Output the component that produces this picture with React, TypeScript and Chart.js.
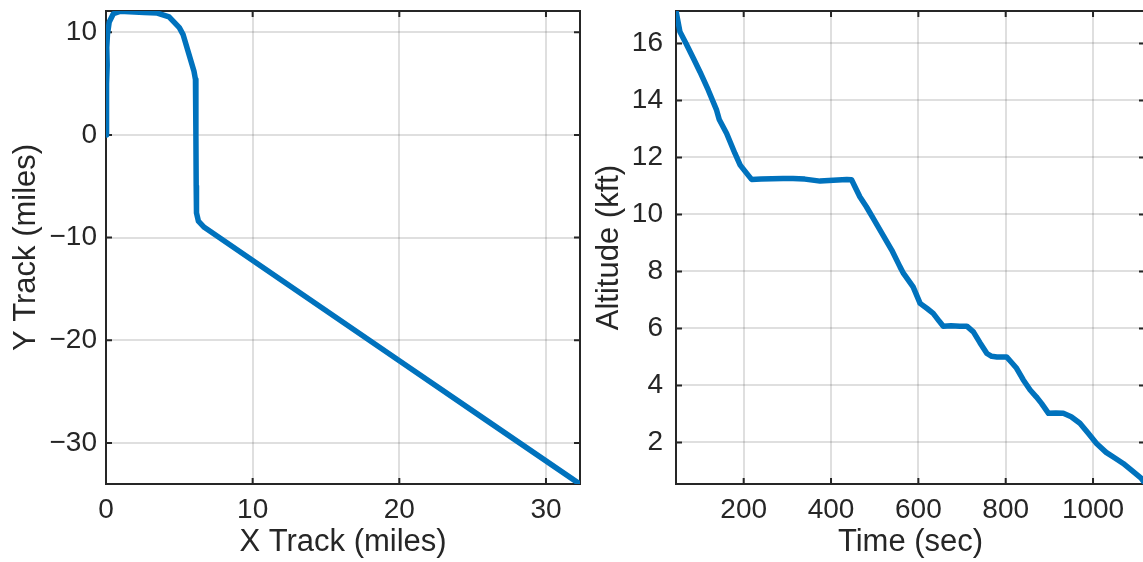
import { useEffect, useRef } from "react";
import { Chart, registerables } from "chart.js";

Chart.register(...registerables);

// Ground track (miles)
const trackX = [0, 0.02, 0.06, 0.03, 0.08, 0.05, 0.1, 0.22, 0.5, 0.95, 1.6, 2.6, 3.5, 4.3, 5.0, 5.25, 6.0, 6.1, 6.13, 6.15, 6.17, 6.3, 6.7, 12, 20, 26, 32.3];
const trackY = [0, 1.5, 3.2, 5.0, 6.8, 8.5, 9.8, 11.0, 11.8, 12.04, 12.0, 11.93, 11.87, 11.5, 10.45, 9.8, 6.2, 5.4, 0, -5, -7.6, -8.4, -9.0, -14.18, -21.99, -27.85, -34.0];
const trackXTicks = [0, 10, 20, 30];
const trackYTicks = [-30, -20, -10, 0, 10];

// Altitude profile
const timeSec = [45, 54, 68, 85, 100, 119, 138, 144, 161, 180, 192, 207, 218, 240, 265, 290, 313, 340, 375, 405, 436, 447, 466, 481, 497, 520, 539, 558, 566, 588, 604, 620, 634, 648, 657, 675, 695, 711, 726, 741, 757, 768, 780, 802, 812, 825, 840, 856, 870, 882, 898, 915, 932, 950, 970, 990, 1008, 1030, 1050, 1069, 1090, 1110, 1119];
const altitudeKft = [17.14, 16.41, 16.0, 15.47, 15.0, 14.36, 13.66, 13.33, 12.84, 12.14, 11.73, 11.44, 11.23, 11.24, 11.25, 11.26, 11.26, 11.24, 11.17, 11.2, 11.23, 11.22, 10.62, 10.27, 9.85, 9.25, 8.75, 8.16, 7.93, 7.46, 6.88, 6.7, 6.53, 6.25, 6.08, 6.09, 6.08, 6.08, 5.88, 5.5, 5.12, 5.02, 5.0, 5.0, 4.83, 4.6, 4.2, 3.84, 3.6, 3.37, 3.02, 3.03, 3.02, 2.9, 2.67, 2.3, 1.96, 1.65, 1.45, 1.26, 1.0, 0.75, 0.56];
const timeTicks = [200, 400, 600, 800, 1000];
const altitudeTicks = [2, 4, 6, 8, 10, 12, 14, 16];

const LINE = "#0072BD";
const INK = "#262626";
const GRID = "rgba(38,38,38,0.15)";
const FONT = "'Liberation Sans', Arial, Helvetica, sans-serif";

// Tick labels use a true minus sign for negative values
const fmt = (v: any) => (Number(v) < 0 ? "\u2212" + String(Math.abs(Number(v))) : String(v));

// Boxed axes with inward tick marks on all four sides
const boxPlugin = {
  id: "boxAxes",
  beforeDatasetsDraw(chart: any) {
    const { ctx, chartArea: a, scales } = chart;
    const len = 6;
    ctx.save();
    ctx.strokeStyle = INK;
    ctx.lineWidth = 2;
    ctx.beginPath();
    for (const t of scales.x.ticks) {
      const px = scales.x.getPixelForValue(t.value);
      ctx.moveTo(px, a.bottom);
      ctx.lineTo(px, a.bottom - len);
      ctx.moveTo(px, a.top);
      ctx.lineTo(px, a.top + len);
    }
    for (const t of scales.y.ticks) {
      const py = scales.y.getPixelForValue(t.value);
      ctx.moveTo(a.left, py);
      ctx.lineTo(a.left + len, py);
      ctx.moveTo(a.right, py);
      ctx.lineTo(a.right - len, py);
    }
    ctx.stroke();
    ctx.strokeRect(a.left, a.top, a.right - a.left, a.bottom - a.top);
    ctx.restore();
  },
};

type PanelSpec = {
  xs: number[];
  ys: number[];
  xTicks: number[];
  yTicks: number[];
  xRange: [number, number];
  yRange: [number, number];
  xTitle: string;
  yTitle: string;
  yAxisWidth: number;
  yLabelPad: number;
  yTitlePad: number;
  rightPad: number;
};

function makeConfig(p: PanelSpec): any {
  const tickFont = { family: FONT, size: 28, lineHeight: 1 };
  const titleFont = { family: FONT, size: 31, lineHeight: 1 };
  return {
    type: "line",
    data: {
      datasets: [
        {
          data: p.xs.map((x, i) => ({ x, y: p.ys[i] })),
          borderColor: LINE,
          borderWidth: 5.5,
          pointRadius: 0,
          tension: 0,
          fill: false,
          borderJoinStyle: "round",
          borderCapStyle: "round",
        },
      ],
    },
    options: {
      responsive: false,
      animation: false,
      events: [],
      layout: { padding: { top: 11, right: p.rightPad, left: 0, bottom: 0 } },
      plugins: { legend: { display: false }, tooltip: { enabled: false } },
      scales: {
        x: {
          type: "linear",
          min: p.xRange[0],
          max: p.xRange[1],
          afterBuildTicks: (s: any) => {
            s.ticks = p.xTicks.map((v) => ({ value: v }));
          },
          afterFit: (s: any) => {
            s.height = 78;
            s.paddingLeft = 0;
            s.paddingRight = 0;
          },
          grid: { color: GRID, lineWidth: 2, drawTicks: false },
          border: { display: false },
          ticks: {
            color: INK,
            font: tickFont,
            padding: 12,
            autoSkip: false,
            maxRotation: 0,
            minRotation: 0,
            callback: fmt,
          },
          title: {
            display: true,
            text: p.xTitle,
            color: INK,
            font: titleFont,
            padding: { top: 0, bottom: 4 },
          },
        },
        y: {
          type: "linear",
          min: p.yRange[0],
          max: p.yRange[1],
          afterBuildTicks: (s: any) => {
            s.ticks = p.yTicks.map((v) => ({ value: v }));
          },
          afterFit: (s: any) => {
            s.width = p.yAxisWidth;
            s.paddingTop = 0;
            s.paddingBottom = 0;
          },
          grid: { color: GRID, lineWidth: 2, drawTicks: false },
          border: { display: false },
          ticks: {
            color: INK,
            font: tickFont,
            padding: p.yLabelPad,
            autoSkip: false,
            callback: fmt,
          },
          title: {
            display: true,
            text: p.yTitle,
            color: INK,
            font: titleFont,
            padding: { top: p.yTitlePad, bottom: 0 },
          },
        },
      },
    },
    plugins: [boxPlugin],
  };
}

export default function App() {
  const leftRef = useRef<HTMLCanvasElement>(null);
  const rightRef = useRef<HTMLCanvasElement>(null);

  useEffect(() => {
    const left = new Chart(
      leftRef.current as HTMLCanvasElement,
      makeConfig({
        xs: trackX,
        ys: trackY,
        xTicks: trackXTicks,
        yTicks: trackYTicks,
        xRange: [0, 32.32],
        yRange: [-34.0, 12.07],
        xTitle: "X Track (miles)",
        yTitle: "Y Track (miles)",
        yAxisWidth: 106,
        yLabelPad: 9,
        yTitlePad: 11,
        rightPad: 10,
      })
    );
    const right = new Chart(
      rightRef.current as HTMLCanvasElement,
      makeConfig({
        xs: timeSec,
        ys: altitudeKft,
        xTicks: timeTicks,
        yTicks: altitudeTicks,
        xRange: [45, 1119],
        yRange: [0.54, 17.14],
        xTitle: "Time (sec)",
        yTitle: "Altitude (kft)",
        yAxisWidth: 91,
        yLabelPad: 13,
        yTitlePad: 9,
        rightPad: 0,
      })
    );
    return () => {
      left.destroy();
      right.destroy();
    };
  }, []);

  return (
    <div
      style={{
        position: "fixed",
        left: 0,
        top: 0,
        width: 1143,
        height: 562,
        overflow: "hidden",
        background: "#ffffff",
      }}
    >
      <canvas
        ref={leftRef}
        width={590}
        height={562}
        style={{ position: "absolute", left: 0, top: 0 }}
      />
      <canvas
        ref={rightRef}
        width={560}
        height={562}
        style={{ position: "absolute", left: 585, top: 0 }}
      />
    </div>
  );
}
